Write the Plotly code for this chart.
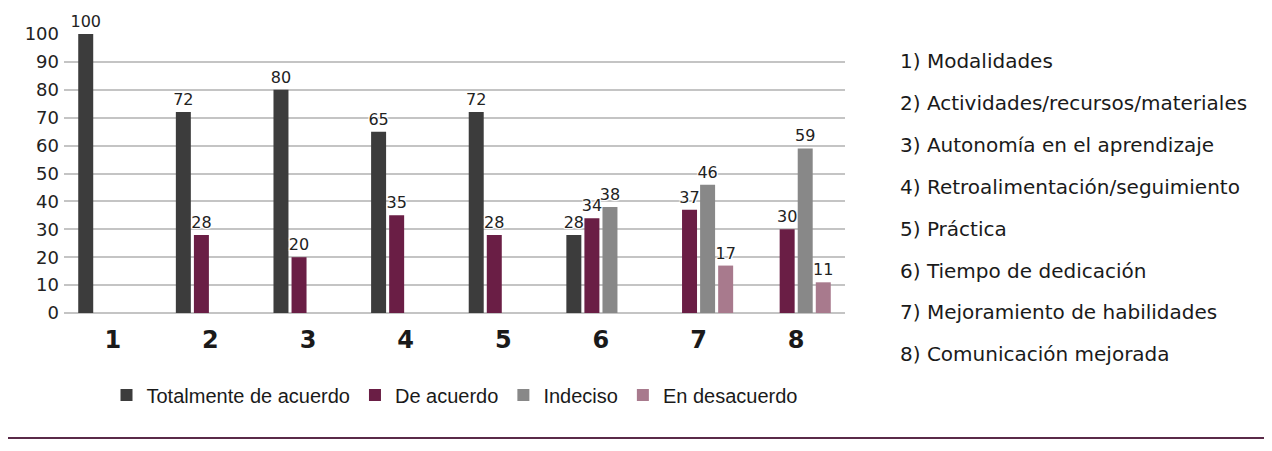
import plotly.graph_objects as go

categories = ["1", "2", "3", "4", "5", "6", "7", "8"]
series_names = ["Totalmente de acuerdo", "De acuerdo", "Indeciso", "En desacuerdo"]
totalmente = [100, 72, 80, 65, 72, 28, None, None]
de_acuerdo = [None, 28, 20, 35, 28, 34, 37, 30]
indeciso = [None, None, None, None, None, 38, 46, 59]
desacuerdo = [None, None, None, None, None, None, 17, 11]
item_labels = [
    "1) Modalidades",
    "2) Actividades/recursos/materiales",
    "3) Autonomía en el aprendizaje",
    "4) Retroalimentación/seguimiento",
    "5) Práctica",
    "6) Tiempo de dedicación",
    "7) Mejoramiento de habilidades",
    "8) Comunicación mejorada",
]

COLORS = ["#3c3c3c", "#6a1e45", "#888888", "#a87a8d"]
FONT = "DejaVu Sans"
NARROW = "Liberation Sans Narrow, Liberation Sans, Arial Narrow, sans-serif"
HALO = "1px 1px 1px white, -1px -1px 1px white, 1px -1px 1px white, -1px 1px 1px white"

# the page puts the figure 8px in from the window corner
OFF = 8

fig = go.Figure()
for name, vals, color in zip(series_names, [totalmente, de_acuerdo, indeciso, desacuerdo], COLORS):
    fig.add_trace(go.Bar(
        x=categories,
        y=vals,
        name=name,
        marker=dict(color=color, line=dict(width=0)),
        text=[("" if v is None else str(v)) for v in vals],
        textposition="outside",
        constraintext="none",
        textfont=dict(family=FONT, size=16, color="#222222", shadow=HALO),
        cliponaxis=False,
    ))

# plot area in window pixels: 64..845 wide, 34..313 tall
left, top, width, height = 64 - OFF, 34 - OFF, 781, 279
bottom_px = top + height

for i, label in enumerate(item_labels):
    ypix = 61 - OFF + i * 41.9
    fig.add_annotation(
        text=label, xref="paper", yref="paper",
        x=(898 - OFF - left) / width, y=(bottom_px - ypix) / height,
        xanchor="left", yanchor="middle", showarrow=False,
        font=dict(family=FONT, size=20, color="#1a1a1a"),
    )

line_y = (bottom_px - (438 - OFF)) / height
fig.add_shape(
    type="line", xref="paper", yref="paper",
    x0=(-OFF - left) / width, x1=(1272 - left) / width,
    y0=line_y, y1=line_y,
    line=dict(color="#5a2a48", width=2),
)

fig.update_layout(
    width=1272, height=451,
    margin=dict(l=left, r=1272 - left - width, t=top, b=451 - top - height),
    paper_bgcolor="white", plot_bgcolor="white",
    barmode="group", bargap=0.26, bargroupgap=0.17,
    font=dict(family=FONT, color="#222222"),
    showlegend=True,
    legend=dict(
        orientation="h", x=0.5, xanchor="center",
        y=(bottom_px - (395 - OFF)) / height, yanchor="middle",
        font=dict(family=NARROW, size=20, color="#1a1a1a"),
        itemwidth=30, traceorder="normal",
    ),
    xaxis=dict(
        showgrid=False, showline=False, ticks="",
        tickfont=dict(family=FONT, size=24, color="#1a1a1a", weight="bold"),
        ticklabelstandoff=10,
    ),
    yaxis=dict(
        range=[0, 100], dtick=10, showgrid=True, gridcolor="#c4c4c4", gridwidth=2,
        zeroline=True, zerolinecolor="#c4c4c4", zerolinewidth=2,
        showline=False, ticks="", ticklabelstandoff=4,
        tickfont=dict(family=FONT, size=18, color="#222222"),
    ),
)

fig.write_html("out.html")
